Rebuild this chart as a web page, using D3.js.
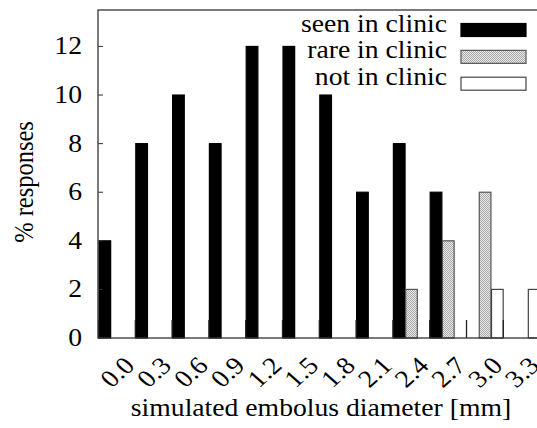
<!DOCTYPE html>
<html><head><meta charset="utf-8">
<script src="https://cdn.jsdelivr.net/npm/d3@7"></script>
<style>
html,body{margin:0;padding:0;background:#fff;}
svg{display:block;font-family:"Liberation Serif","Times New Roman",serif;}
</style></head>
<body><svg id="c" width="537" height="428"></svg>
<script>
const categories = ["0.0","0.3","0.6","0.9","1.2","1.5","1.8","2.1","2.4","2.7","3.0","3.3"];
const seenInClinic = [4,8,10,8,12,12,10,6,8,6,0,0];
const rareInClinic = [0,0,0,0,0,0,0,0,2,4,6,0];
const notInClinic  = [0,0,0,0,0,0,0,0,0,0,2,2];
const seriesNames = ["seen in clinic","rare in clinic","not in clinic"];
const yTicks = [0,2,4,6,8,10,12];

(function(){
const svg = d3.select("#c");
const FS = 24.5, SX = 1.13;
const defs = svg.append("defs");
const pat = defs.append("pattern").attr("id","hatch").attr("patternUnits","userSpaceOnUse")
  .attr("width",2).attr("height",2);
pat.append("rect").attr("width",2).attr("height",2).attr("fill","#e8e8e8");
pat.append("rect").attr("width",1).attr("height",1).attr("fill","#aaaaaa");
pat.append("rect").attr("x",1).attr("y",1).attr("width",1).attr("height",1).attr("fill","#aaaaaa");

const pLeft = 98, pTop = 10, pBottom = 338, step = 36.8;
const x = d3.scaleLinear().domain([0, categories.length]).range([pLeft, pLeft + step*categories.length]);
const y = d3.scaleLinear().domain([0, 13.5]).range([pBottom, pTop]);

const series = [
  {name: seriesNames[0], values: seenInClinic, fill: "#000", stroke: "#000"},
  {name: seriesNames[1], values: rareInClinic, fill: "url(#hatch)", stroke: "#555"},
  {name: seriesNames[2], values: notInClinic, fill: "#fff", stroke: "#444"}
];

const pRight = x(categories.length);

// bars
series.forEach((s, si) => {
  const data = s.values.map((v, i) => ({i, v})).filter(d => d.v > 0);
  svg.append("g").selectAll("rect").data(data).join("rect")
    .attr("x", d => x(d.i + si/3) + 1)
    .attr("width", x(1/3) - x(0) - 0.6)
    .attr("y", d => y(d.v))
    .attr("height", d => y(0) - y(d.v))
    .attr("fill", s.fill)
    .attr("stroke", s.stroke)
    .attr("stroke-width", 1.2);
});

// x tick marks (inward)
svg.append("g").selectAll("line").data(categories).join("line")
  .attr("x1", (d,i) => x(i)+0.5).attr("x2", (d,i) => x(i)+0.5)
  .attr("y1", y(0)).attr("y2", y(0) - 18)
  .attr("stroke", "#222").attr("stroke-width", 1.3);

// y ticks
svg.append("g").selectAll("line").data(yTicks).join("line")
  .attr("x1", pLeft).attr("x2", pLeft + 5)
  .attr("y1", d => y(d)).attr("y2", d => y(d))
  .attr("stroke", "#333").attr("stroke-width", 1);

// border
svg.append("rect").attr("x", pLeft).attr("y", pTop).attr("width", pRight - pLeft).attr("height", pBottom - pTop)
  .attr("fill", "none").attr("stroke", "#333").attr("stroke-width", 1.3);

// y tick labels
svg.append("g").selectAll("text").data(yTicks).join("text")
  .attr("transform", d => `translate(82,${y(d)+8}) scale(${SX},1)`)
  .attr("text-anchor", "end").attr("font-size", FS).text(d => d);

// x tick labels
svg.append("g").selectAll("text").data(categories).join("text")
  .attr("transform", (d,i) => `translate(${x(i)+38},${367}) scale(${SX},1) rotate(-45)`)
  .attr("text-anchor", "end").attr("font-size", FS).text(d => d);

// axis titles
svg.append("text").attr("transform", `translate(321,416) scale(${SX},1)`).attr("text-anchor", "middle")
  .attr("font-size", FS).text("simulated embolus diameter [mm]");
svg.append("text").attr("transform", `translate(33,182) scale(${SX},1) rotate(-90)`).attr("text-anchor", "middle")
  .attr("font-size", FS).text("% responses");

// legend
const lg = svg.append("g");
series.forEach((s, si) => {
  const cy = 30 + si*26.85;
  lg.append("text").attr("transform", `translate(447,${cy+1.5}) scale(${SX},1)`).attr("text-anchor", "end")
    .attr("font-size", FS).text(s.name);
  lg.append("rect").attr("x", 461).attr("y", cy - 6.5).attr("width", 65).attr("height", 13)
    .attr("fill", s.fill).attr("stroke", s.stroke).attr("stroke-width", 1.2);
});
})();
</script></body></html>
